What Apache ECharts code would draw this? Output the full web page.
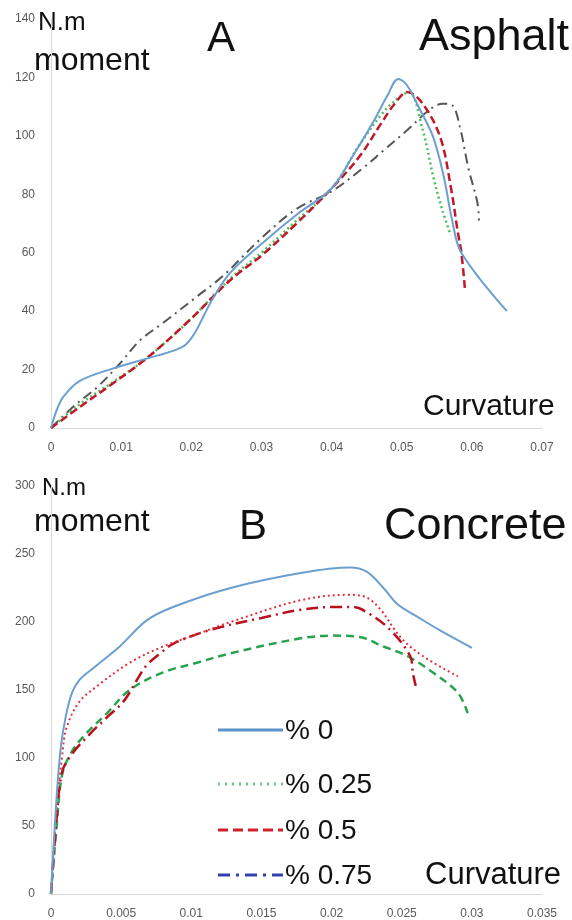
<!DOCTYPE html>
<html><head><meta charset="utf-8">
<script src="https://cdn.jsdelivr.net/npm/echarts@6/dist/echarts.min.js"></script>
<style>html,body{margin:0;padding:0;background:#fff}#c{width:572px;height:920px}</style>
</head><body><div id="c"></div>
<script>
// ---- Data: A (Asphalt) ----
const xTicksA = [0,0.01,0.02,0.03,0.04,0.05,0.06,0.07];
const yTicksA = [0,20,40,60,80,100,120,140];
const asphalt0 = [[0,0],[0.0008,6],[0.0017,10.5],[0.004,16],[0.009,20.5],[0.014,24],[0.0175,26.5],[0.0192,28.5],[0.0205,32.5],[0.0218,38.5],[0.023,44],[0.0255,53],[0.03,63],[0.035,73],[0.04,82],[0.043,93],[0.046,105],[0.048,114],[0.0495,119.5],[0.0507,117.5],[0.0526,109],[0.0545,99.5],[0.056,86],[0.0572,71],[0.0585,60],[0.065,40]];
const asphalt025 = [[0,0],[0.004,8],[0.009,16],[0.0137,24],[0.0198,37],[0.0255,51],[0.03,60],[0.035,71],[0.04,82],[0.044,97],[0.047,107],[0.049,112],[0.051,115],[0.053,102],[0.0545,86],[0.0558,74.5],[0.057,66]];
const asphalt05 = [[0,0],[0.004,7],[0.0089,15.4],[0.0137,24],[0.0198,37],[0.0255,50.5],[0.03,59],[0.035,70],[0.04,82],[0.044,93],[0.047,104],[0.049,111],[0.0508,115],[0.053,111],[0.0555,99.5],[0.057,82.5],[0.058,67],[0.0585,60],[0.059,48]];
const asphalt075 = [[0,0],[0.0035,8],[0.0066,14],[0.0098,22],[0.0127,30],[0.016,36],[0.0208,45],[0.0245,52],[0.03,65],[0.035,75],[0.04,81],[0.0445,89],[0.0474,95],[0.0508,102],[0.054,109],[0.0558,111],[0.0572,110.5],[0.0583,103],[0.0595,89],[0.0608,77],[0.061,71]];
// ---- Data: B (Concrete) ----
const xTicksB = [0,0.005,0.01,0.015,0.02,0.025,0.03,0.035];
const yTicksB = [0,50,100,150,200,250,300];
const concrete0 = [[0,0],[0.0003,55],[0.0006,98],[0.0009,122],[0.0014,145],[0.002,157],[0.003,166],[0.0049,182],[0.0068,201],[0.0087,211],[0.0128,225],[0.0178,236],[0.0213,240],[0.0225,237],[0.0237,225],[0.0247,213],[0.0261,204],[0.0277,194],[0.03,181]];
const concreteDot = [[0,0],[0.0004,62],[0.0008,102],[0.0011,122],[0.002,141],[0.0033,153],[0.0056,170],[0.008,182],[0.0104,191],[0.0128,200],[0.0178,216],[0.0213,220],[0.0225,218],[0.0235,209],[0.0249,189],[0.0265,175],[0.029,160]];
const concreteDash = [[0,0],[0.0004,50],[0.0008,88],[0.0015,105],[0.0025,118],[0.004,133],[0.0056,150],[0.008,163],[0.0104,170],[0.0128,177],[0.0178,188],[0.0201,190],[0.022,189],[0.0237,182],[0.0254,175],[0.0272,163],[0.029,148],[0.0297,133]];
const concreteDashDot = [[0,0],[0.0004,55],[0.0008,90],[0.0015,103],[0.0028,118],[0.004,130],[0.0052,142],[0.0061,157],[0.0068,168],[0.0078,177],[0.0087,184],[0.0113,194],[0.015,203],[0.0178,209],[0.0201,211],[0.0215,211],[0.0227,206],[0.0242,194],[0.0256,175],[0.0258,162],[0.026,153]];
const legendLabels = ['% 0','% 0.25','% 0.5','% 0.75'];

const chart = echarts.init(document.getElementById('c'));
const font = 'Liberation Sans, Arial, sans-serif';
const fmt = v => String(v);
function xAx(i, ticks){return {type:'value',gridIndex:i,min:ticks[0],max:ticks[ticks.length-1],interval:ticks[1]-ticks[0],
  axisLine:{show:true,lineStyle:{color:'#d9d9d9',width:1}},axisTick:{show:false},splitLine:{show:false},
  axisLabel:{color:'#595959',fontSize:12,fontFamily:font,margin:14,formatter:fmt}};}
function yAx(i, ticks, m){return {type:'value',gridIndex:i,min:ticks[0],max:ticks[ticks.length-1],interval:ticks[1]-ticks[0],
  axisLine:{show:true,lineStyle:{color:'#d9d9d9',width:1}},axisTick:{show:false},splitLine:{show:false},
  axisLabel:{color:'#595959',fontSize:12,fontFamily:font,margin:m,formatter:fmt}};}
function ser(data, xi, color, type, width, smooth){return {type:'line',xAxisIndex:xi,yAxisIndex:xi,data:data,showSymbol:false,symbol:'none',
  smooth:smooth===undefined?0.35:smooth,lineStyle:{color:color,type:type,width:width},z:3,animation:false};}
function txt(x,cy,s,size){return {type:'text',x:x,y:cy,style:{text:s,fontSize:size,fontFamily:font,fill:'#111',textAlign:'left',textVerticalAlign:'middle',align:'left',verticalAlign:'middle'}};}
const legendStyles = [
  {color:'#5b93c9',type:'solid',w:3},
  {color:'#6cc38a',type:[2,5],w:3},
  {color:'#d0202a',type:[10,5],w:3},
  {color:'#3340b0',type:[12,6,3,6],w:3}
];
const legendY = [730,784,830,875];
const graphics = [
  txt(38,23,'N.m',26), txt(34,61,'moment',32), txt(207,39,'A',42), txt(419,38,'Asphalt',45), txt(423,407,'Curvature',30),
  txt(42,488,'N.m',24), txt(34,522,'moment',32), txt(239,527,'B',42), txt(384,527,'Concrete',45), txt(425,875,'Curvature',31)
];
legendLabels.forEach((l,i)=>{
  const st = legendStyles[i];
  graphics.push({type:'line',shape:{x1:218,y1:legendY[i],x2:283,y2:legendY[i]},style:{stroke:st.color,lineWidth:st.w,lineDash:st.type==='solid'?null:st.type}});
  graphics.push(txt(285,legendY[i]+1,l,28));
});
chart.setOption({
  animation:false,
  grid:[{left:51,top:19,width:491,height:409},{left:51,top:486,width:491,height:417}],
  xAxis:[xAx(0,xTicksA),xAx(1,xTicksB)],
  yAxis:[yAx(0,yTicksA,16),yAx(1,yTicksB,16)],
  series:[
    ser(asphalt075,0,'#555555',[10,5,2,5],2),
    ser(asphalt025,0,'#4cbf5a',[2,3],2.5),
    ser(asphalt05,0,'#c01828',[8,4],2.5),
    ser(asphalt0,0,'#6a9fd0','solid',2),
    ser(concreteDash,1,'#27a24e',[8,5],2.5),
    ser(concreteDashDot,1,'#b8101c',[12,5,2,5],2.5),
    ser(concreteDot,1,'#e0303c',[2,3],2),
    ser(concrete0,1,'#6a9fd0','solid',2)
  ],
  graphic:graphics
});
</script></body></html>
